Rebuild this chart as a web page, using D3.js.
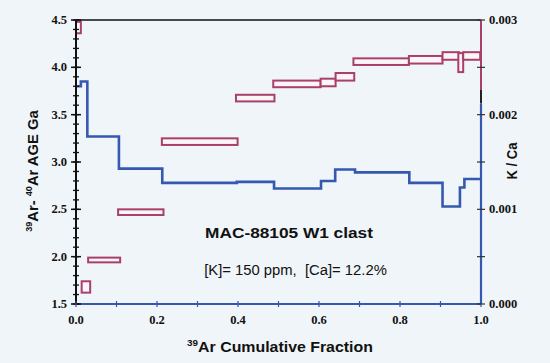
<!DOCTYPE html>
<html>
<head>
<meta charset="utf-8">
<script src="https://cdn.jsdelivr.net/npm/d3@7"></script>
<style>
  html, body { margin: 0; padding: 0; background: #eff5f8; }
  svg { display: block; }
  .tick-label { font-family: "Liberation Serif", "Times New Roman", serif; font-weight: bold; font-size: 12.5px; fill: #111; }
  .sans { font-family: "Liberation Sans", Arial, Helvetica, sans-serif; fill: #111; }
</style>
</head>
<body>
<script>
// ---- Data ----
// Age spectrum steps (39Ar cumulative fraction from/to, age low/high in Ga)
const ageFrom = [0.000, 0.014, 0.030, 0.104, 0.212, 0.395, 0.487, 0.604, 0.641, 0.685, 0.822, 0.905, 0.944, 0.956];
const ageTo   = [0.012, 0.035, 0.109, 0.216, 0.399, 0.490, 0.604, 0.641, 0.687, 0.822, 0.905, 0.946, 0.956, 0.998];
const ageLow  = [4.36, 1.62, 1.94, 2.44, 3.18, 3.64, 3.79, 3.80, 3.86, 4.025, 4.04, 4.08, 3.95, 4.08];
const ageHigh = [4.48, 1.74, 1.99, 2.50, 3.25, 3.71, 3.86, 3.88, 3.94, 4.095, 4.12, 4.16, 4.15, 4.16];

// K/Ca step spectrum
const kcaFrom = [0.000, 0.012, 0.028, 0.106, 0.213, 0.397, 0.489, 0.605, 0.640, 0.689, 0.823, 0.905, 0.948, 0.959];
const kcaTo   = [0.012, 0.028, 0.106, 0.213, 0.397, 0.489, 0.605, 0.640, 0.689, 0.823, 0.905, 0.948, 0.959, 1.000];
const kcaVal  = [0.00230, 0.00235, 0.00177, 0.00143, 0.00128, 0.00129, 0.00122, 0.00130, 0.00142, 0.00139, 0.00128, 0.00103, 0.00123, 0.00132];

// Axis ticks
const xTicks = [0, 0.1, 0.2, 0.3, 0.4, 0.5, 0.6, 0.7, 0.8, 0.9, 1.0];
const xTickLabels = [0, 0.2, 0.4, 0.6, 0.8, 1.0];
const ageMajor = [1.5, 2.0, 2.5, 3.0, 3.5, 4.0, 4.5];
const ageMinor = d3.range(15, 46).map(v => v / 10);
const kcaTicks = [0, 0.0005, 0.001, 0.0015, 0.002, 0.0025, 0.003];
const kcaLabels = [0, 0.001, 0.002, 0.003];

const title = "MAC-88105 W1 clast";
const subtitle = "[K]= 150 ppm,  [Ca]= 12.2%";

// ---- Chart ----
const W = 550, H = 363;
const maroon = "#a9406b", blue = "#3558b0";
const svg = d3.select("body").append("svg").attr("width", W).attr("height", H);

const x = d3.scaleLinear().domain([0, 1]).range([76, 481]);
const yAge = d3.scaleLinear().domain([1.5, 4.5]).range([304, 20]);
const yK = d3.scaleLinear().domain([0, 0.003]).range([304, 20]);

// helper: place text centred at (cx, cy) with rotation, squeezed to a target width
function fitText(sel, cx, cy, rot, target) {
  const w = sel.node().getComputedTextLength ? sel.node().getBBox().width : target;
  const k = w > 0 ? target / w : 1;
  sel.attr("x", 0).attr("y", 0)
     .attr("transform", `translate(${cx},${cy}) rotate(${rot}) scale(${k},1)`);
}

// Age boxes
svg.append("g").selectAll("rect").data(ageFrom).join("rect")
  .attr("x", (d, i) => x(d))
  .attr("y", (d, i) => yAge(ageHigh[i]))
  .attr("width", (d, i) => x(ageTo[i]) - x(d))
  .attr("height", (d, i) => yAge(ageLow[i]) - yAge(ageHigh[i]))
  .attr("fill", "#fbf5f8")
  .attr("stroke", maroon)
  .attr("stroke-width", 2);

// K/Ca step line
const kPts = [];
kcaFrom.forEach((f, i) => { kPts.push([f, kcaVal[i]]); kPts.push([kcaTo[i], kcaVal[i]]); });
svg.append("path")
  .attr("d", d3.line().x(d => x(d[0])).y(d => yK(d[1]))(kPts))
  .attr("fill", "none").attr("stroke", blue).attr("stroke-width", 2.6)
  .attr("stroke-linejoin", "miter");

// Frame
svg.append("line").attr("x1", x(0)).attr("x2", x(1)).attr("y1", yAge(4.5)).attr("y2", yAge(4.5))
  .attr("stroke", "#111").attr("stroke-width", 1.6);
svg.append("line").attr("x1", x(0)).attr("x2", x(0)).attr("y1", yAge(4.5)).attr("y2", yAge(1.5))
  .attr("stroke", "#111").attr("stroke-width", 2);
// right axis: maroon upper part, black middle, blue lower part
svg.append("line").attr("x1", x(1)).attr("x2", x(1)).attr("y1", yK(0.003)).attr("y2", yAge(3.76))
  .attr("stroke", maroon).attr("stroke-width", 2);
svg.append("line").attr("x1", x(1)).attr("x2", x(1)).attr("y1", yAge(3.76)).attr("y2", yK(0.00212))
  .attr("stroke", "#222").attr("stroke-width", 2);
svg.append("line").attr("x1", x(1)).attr("x2", x(1)).attr("y1", yK(0.00212)).attr("y2", yK(0))
  .attr("stroke", blue).attr("stroke-width", 2.2);
// bottom axis (blue)
svg.append("line").attr("x1", x(0)).attr("x2", x(1)).attr("y1", yAge(1.5)).attr("y2", yAge(1.5))
  .attr("stroke", blue).attr("stroke-width", 2);

// Left ticks
svg.append("g").selectAll("line").data(ageMinor).join("line")
  .attr("x1", x(0) - 3).attr("x2", x(0) + 3)
  .attr("y1", d => yAge(d)).attr("y2", d => yAge(d))
  .attr("stroke", "#111").attr("stroke-width", 1.3);
svg.append("g").selectAll("line").data(ageMajor).join("line")
  .attr("x1", x(0) - 5).attr("x2", x(0) + 5)
  .attr("y1", d => yAge(d)).attr("y2", d => yAge(d))
  .attr("stroke", "#111").attr("stroke-width", 1.5);
svg.append("g").selectAll("text").data(ageMajor).join("text")
  .attr("class", "tick-label")
  .attr("x", x(0) - 9).attr("y", d => yAge(d) + 4)
  .attr("text-anchor", "end")
  .text(d => d3.format(".1f")(d));

// Bottom ticks
svg.append("g").selectAll("line").data(xTicks).join("line")
  .attr("x1", d => x(d)).attr("x2", d => x(d))
  .attr("y1", yAge(1.5) - 3).attr("y2", yAge(1.5) + 3)
  .attr("stroke", blue).attr("stroke-width", 1.2);
svg.append("g").selectAll("text").data(xTickLabels).join("text")
  .attr("class", "tick-label")
  .attr("x", d => x(d)).attr("y", 324)
  .attr("text-anchor", "middle")
  .text(d => d3.format(".1f")(d));

// Right ticks
svg.append("g").selectAll("line").data(kcaTicks).join("line")
  .attr("x1", x(1) - 4).attr("x2", x(1) + 4)
  .attr("y1", d => yK(d)).attr("y2", d => yK(d))
  .attr("stroke", "#333").attr("stroke-width", 1.2);
svg.append("g").selectAll("text").data(kcaLabels).join("text")
  .attr("class", "tick-label")
  .attr("x", x(1) + 8).attr("y", d => yK(d) + 4)
  .attr("text-anchor", "start")
  .text(d => d3.format(".3f")(d));

// Axis titles
const xl = svg.append("text").attr("class", "sans").attr("text-anchor", "middle")
  .attr("font-weight", "bold").attr("font-size", 14.5);
xl.append("tspan").attr("font-size", 9).attr("dy", -6).text("39");
xl.append("tspan").attr("dy", 6).text("Ar Cumulative Fraction");
fitText(xl, 280, 352, 0, 186);

const yl = svg.append("text").attr("class", "sans").attr("text-anchor", "middle")
  .attr("font-weight", "bold").attr("font-size", 15.5);
yl.append("tspan").attr("font-size", 9.5).attr("dy", -6).text("39");
yl.append("tspan").attr("dy", 6).text("Ar- ");
yl.append("tspan").attr("font-size", 9.5).attr("dy", -6).text("40");
yl.append("tspan").attr("dy", 6).text("Ar AGE Ga");
fitText(yl, 38, 171, -90, 122);

const kl = svg.append("text").attr("class", "sans").attr("text-anchor", "middle")
  .attr("font-weight", "bold").attr("font-size", 14.5)
  .text("K / Ca");
fitText(kl, 517, 161, -90, 38);

// Annotations
const tl = svg.append("text").attr("class", "sans").attr("text-anchor", "middle")
  .attr("font-weight", "bold").attr("font-size", 15.5)
  .text(title);
fitText(tl, 289, 238, 0, 168);
const sl = svg.append("text").attr("class", "sans").attr("text-anchor", "middle")
  .attr("font-size", 14.3)
  .style("white-space", "pre")
  .text(subtitle);
fitText(sl, 295.5, 275, 0, 183);
</script>
</body>
</html>
